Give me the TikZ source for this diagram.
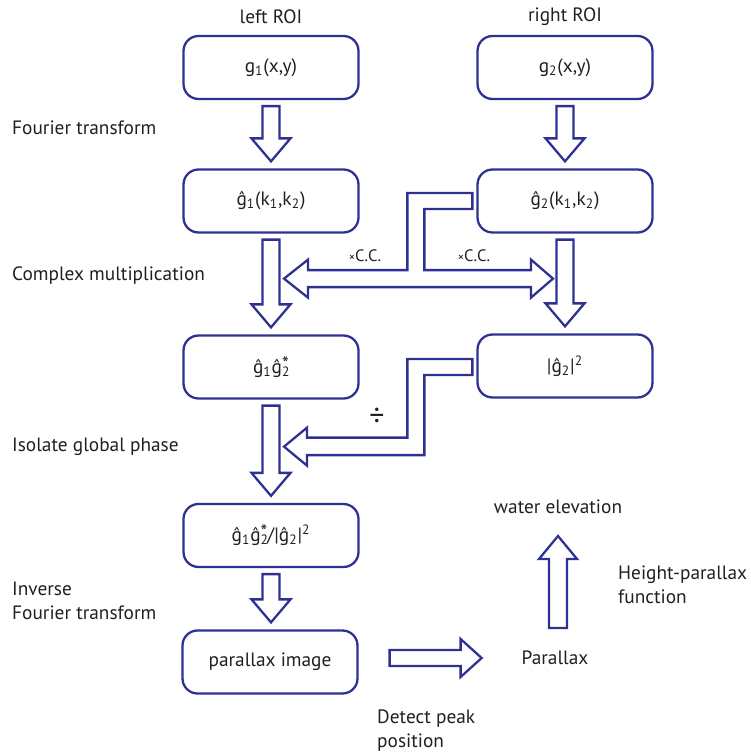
\documentclass[tikz,border=0pt]{standalone}
\usepackage{fontspec}
\setmainfont{PT Sans}
\usepackage{xcolor}
\usepackage{tikz}
\usetikzlibrary{positioning, calc}

\definecolor{flowblue}{RGB}{46,49,146}
\definecolor{inkgray}{RGB}{35,31,32}

\newcommand{\lo}[1]{\textsubscript{#1}}
\newcommand{\conj}{\raisebox{0.3ex}{\fontsize{11}{11}\selectfont *}}
% hollow block arrow pointing down, from one box to the next
\newcommand{\hollowdown}[2]{%
  \draw[hollow] ($(#1.south)+(-8.5,6)$) -- ($(#1.south)+(8.5,6)$)
    -- ($(#1.south |- #2.north)+(8.5,-30)$) -- ($(#1.south |- #2.north)+(19.5,-30)$)
    -- ($(#1.south |- #2.north)+(0,-7)$) -- ($(#1.south |- #2.north)+(-19.5,-30)$)
    -- ($(#1.south |- #2.north)+(-8.5,-30)$) -- cycle;}

\begin{document}
\begin{tikzpicture}[x=0.02cm, y=-0.02cm,
    every node/.style={text=inkgray, font=\fontsize{11}{13.6}\selectfont},
    box/.style={draw=flowblue, line width=1.3pt, rounded corners=0.3cm,
                minimum width=3.5cm, minimum height=1.26cm},
    hollow/.style={draw=flowblue, line width=1.3pt, line join=miter},
    small/.style={font=\fontsize{9.4}{11}\selectfont}]
        \useasboundingbox (0,0) rectangle (750,756);

        % column titles
        \node (leftroi) at (271,17) {left ROI};
        \node (rightroi) at (565,17) {right ROI};

        % boxes
        \node[box] (L1) at (271,67.5) {g\lo{1}(x,y)};
        \node[box] (R1) at (565,67.5) {g\lo{2}(x,y)};
        \node[box] (L2) at (271,201) {ĝ\lo{1}(k\lo{1},k\lo{2})};
        \node[box] (R2) at (565,201) {ĝ\lo{2}(k\lo{1},k\lo{2})};
        \node[box] (L3) at (271,367) {ĝ\lo{1}ĝ\rlap{\lo{2}}\conj};
        \node[box] (R3) at (565,366) {|ĝ\lo{2}|\textsuperscript{2}};
        \node[box] (L4) at (271,535.5) {ĝ\lo{1}ĝ\rlap{\lo{2}}\conj/|ĝ\lo{2}|\textsuperscript{2}};
        \node[box] (L5) at (270,662) {parallax image};

        % step names
        \node[anchor=west] (ft) at (6,128) {Fourier transform};
        \node[anchor=west] (cm) at (6,276) {Complex multiplication};
        \node[anchor=west] (ig) at (6,447) {Isolate global phase};
        \node[anchor=west, align=left] (ift) at (6,601) {Inverse\\Fourier transform};

        % downward arrows
        \hollowdown{L1}{L2}
        \hollowdown{R1}{R2}
        \hollowdown{L2}{L3}
        \hollowdown{R2}{R3}
        \hollowdown{L3}{L4}
        \hollowdown{L4}{L5}

        % complex conjugate, split to both sides
        \coordinate (ccL) at ($(L2.south)+(13,45)$);
        \coordinate (ccR) at ($(R2.south)+(-12,45)$);
        \coordinate (ccS) at ($(R2.west)+(-60.5,0)$);
        \draw[hollow] ($(R2.west)+(-4,-8)$) -- ($(ccS)+(-8.5,-8)$)
            -- ($(ccS |- ccL)+(-8.5,-8.5)$) -- ($(ccL)+(24,-8.5)$)
            -- ($(ccL)+(24,-19)$) -- (ccL) -- ($(ccL)+(24,19)$)
            -- ($(ccL)+(24,8.5)$) -- ($(ccR)+(-22,8.5)$)
            -- ($(ccR)+(-22,19)$) -- (ccR) -- ($(ccR)+(-22,-19)$)
            -- ($(ccR)+(-22,-8.5)$) -- ($(ccS |- ccL)+(8.5,-8.5)$)
            -- ($(ccS)+(8.5,8)$) -- ($(R2.west)+(-4,8)$) -- cycle;
        \node[small] (ccl) at (365,256) {{\fontsize{7}{8}\selectfont×}C.C.};
        \node[small] (ccr) at (474,256) {{\fontsize{7}{8}\selectfont×}C.C.};

        % division by the power
        \coordinate (divL) at ($(L3.south)+(13,47)$);
        \draw[hollow] ($(R3.west)+(-4,-7)$) -- ($(ccS |- R3.west)+(-8.5,-7)$)
            -- ($(ccS |- divL)+(-8.5,-9)$) -- ($(divL)+(23,-9)$)
            -- ($(divL)+(23,-19)$) -- (divL) -- ($(divL)+(23,19)$)
            -- ($(divL)+(23,8.5)$) -- ($(ccS |- divL)+(8.5,8.5)$)
            -- ($(ccS |- R3.west)+(8.5,9)$) -- ($(R3.west)+(-4,9)$) -- cycle;
        \node[font=\fontsize{17}{19}\selectfont] (div) at (377,417) {÷};

        % peak detection and height
        \node (par) at (555,658) {Parallax};
        \node (water) at (558,507) {water elevation};
        \node[anchor=west, align=left] (hp) at (612,584.5) {Height-parallax\\function};
        \node[anchor=west, align=left] (dp) at (371,731) {Detect peak\\position};

        \coordinate (pk) at (L5.east |- par);
        \draw[hollow] ($(pk)+(31,-8)$) -- ($(pk)+(102,-8)$) -- ($(pk)+(102,-19)$)
            -- ($(pk)+(123,0)$) -- ($(pk)+(102,19)$) -- ($(pk)+(102,8)$)
            -- ($(pk)+(31,8)$) -- cycle;
        \draw[hollow] ($(water |- par)+(-9,-30)$) -- ($(water |- par)+(9,-30)$)
            -- ($(water)+(9,52)$) -- ($(water)+(19,52)$) -- ($(water)+(0,29)$)
            -- ($(water)+(-19,52)$) -- ($(water)+(-9,52)$) -- cycle;
      \end{tikzpicture}
\end{document}
